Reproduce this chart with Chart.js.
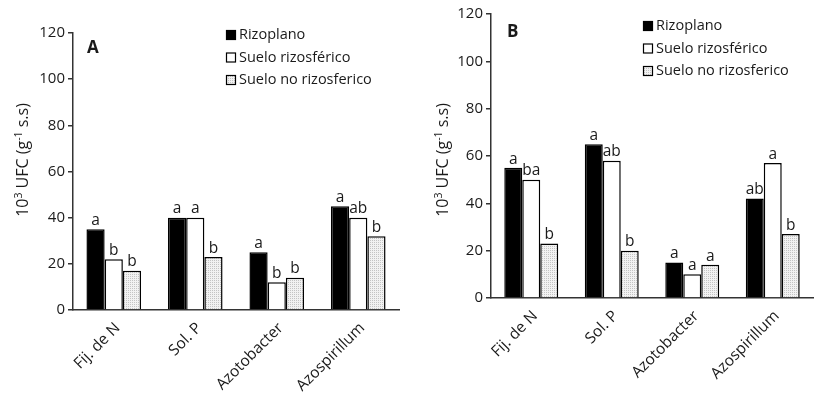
<!DOCTYPE html>
<html>
<head>
<meta charset="utf-8">
<script src="https://cdn.jsdelivr.net/npm/chart.js@4.4.1/dist/chart.umd.min.js"></script>
<style>
    body { margin: 0; background: #fff; }
    #wrap { position: relative; width: 825px; height: 395px; }
    canvas { position: absolute; top: 0; }
    #chart-a { left: 0; }
    #chart-b { left: 410px; }
</style>
</head>
<body>
<div id="wrap">
    <canvas id="chart-a" width="410" height="395"></canvas>
    <canvas id="chart-b" width="415" height="395"></canvas>
</div>
<script>
var categories = ['Fij. de N', 'Sol. P', 'Azotobacter', 'Azospirillum'];
var seriesNames = ['Rizoplano', 'Suelo rizosférico', 'Suelo no rizosferico'];
var yTicks = [0, 20, 40, 60, 80, 100, 120];
// y title pieces: [text, superscript?]
var yTitleParts = [['10', false], ['3', true], [' UFC (g', false], ['-1', true], [' s.s)', false]];

// Panel A
var rizoplanoA = [35, 40, 25, 45];
var rizosfericoA = [22, 40, 12, 40];
var noRizosfericoA = [17, 23, 14, 32];
var lettersA = [['a', 'a', 'a', 'a'], ['b', 'a', 'b', 'ab'], ['b', 'b', 'b', 'b']];

// Panel B
var rizoplanoB = [55, 65, 15, 42];
var rizosfericoB = [50, 58, 10, 57];
var noRizosfericoB = [23, 20, 14, 27];
var lettersB = [['a', 'a', 'a', 'ab'], ['ba', 'ab', 'a', 'a'], ['b', 'b', 'a', 'b']];

var FONT = '"Open Sans", "Liberation Sans", sans-serif';
var TEXT = '#1a1a1a';
var AXIS = '#333';

function dotPattern() {
    var c = document.createElement('canvas');
    c.width = 2;
    c.height = 2;
    var g = c.getContext('2d');
    g.fillStyle = '#f2f2f2';
    g.fillRect(0, 0, 2, 2);
    g.fillStyle = '#c4c4c4';
    g.fillRect(0, 0, 1, 1);
    return g.createPattern(c, 'repeat');
}

var fills = ['#000', '#fff', dotPattern()];

function drawTitle(ctx, cx, cy) {
    var main = '16px ' + FONT, sup = '10.5px ' + FONT;
    var total = 0;
    yTitleParts.forEach(function (p) {
        ctx.font = p[1] ? sup : main;
        total += ctx.measureText(p[0]).width;
    });
    ctx.save();
    ctx.translate(cx, cy);
    ctx.rotate(-Math.PI / 2);
    ctx.textAlign = 'left';
    ctx.textBaseline = 'alphabetic';
    var x = -total / 2;
    yTitleParts.forEach(function (p) {
        ctx.font = p[1] ? sup : main;
        ctx.fillText(p[0], x, p[1] ? -6 : 0);
        x += ctx.measureText(p[0]).width;
    });
    ctx.restore();
}

// letters over bars, panel tag, legend and y title
var annotations = {
    id: 'annotations',
    afterDatasetsDraw: function (chart, args, opts) {
        var ctx = chart.ctx;
        ctx.save();
        ctx.fillStyle = TEXT;
        ctx.font = '15.5px ' + FONT;
        ctx.textAlign = 'center';
        ctx.textBaseline = 'bottom';
        chart.data.datasets.forEach(function (ds, i) {
            chart.getDatasetMeta(i).data.forEach(function (bar, j) {
                ctx.fillText(opts.letters[i][j], bar.x, bar.y - 1);
            });
        });

        ctx.font = 'bold 17px ' + FONT;
        ctx.textAlign = 'left';
        ctx.textBaseline = 'alphabetic';
        ctx.fillText(opts.panel, opts.panelX, opts.panelY);

        // legend
        ctx.font = '14.5px ' + FONT;
        ctx.textBaseline = 'middle';
        seriesNames.forEach(function (name, i) {
            var y = opts.legendY + i * 22.5;
            ctx.fillStyle = fills[i];
            ctx.fillRect(opts.legendX, y - 5, 10, 10);
            ctx.strokeStyle = '#000';
            ctx.lineWidth = 1.2;
            ctx.strokeRect(opts.legendX + 0.5, y - 4.5, 9, 9);
            ctx.fillStyle = TEXT;
            ctx.fillText(name, opts.legendX + 13, y);
        });

        ctx.fillStyle = TEXT;
        drawTitle(ctx, opts.titleX, opts.titleY);
        ctx.restore();
    }
};

function makeChart(id, series, opts, box) {
    var datasets = series.map(function (values, i) {
        return {
            label: seriesNames[i],
            data: values,
            backgroundColor: fills[i],
            borderColor: '#000',
            borderWidth: 1.5,
            borderSkipped: 'bottom'
        };
    });

    return new Chart(document.getElementById(id), {
        type: 'bar',
        data: { labels: categories, datasets: datasets },
        options: {
            responsive: false,
            animation: false,
            categoryPercentage: 0.67,
            barPercentage: 1.0,
            layout: { padding: { left: 0, right: box.right, top: box.top, bottom: 0 } },
            plugins: {
                legend: { display: false },
                tooltip: { enabled: false },
                annotations: opts
            },
            scales: {
                x: {
                    grid: { drawOnChartArea: false, drawTicks: false },
                    border: { display: true, color: AXIS, width: 1.5 },
                    ticks: {
                        color: TEXT,
                        font: { family: FONT, size: 15.5 },
                        maxRotation: 45,
                        minRotation: 45,
                        autoSkip: false,
                        padding: 9,
                        labelOffset: 4
                    },
                    afterFit: function (scale) { scale.height = box.xHeight; }
                },
                y: {
                    min: 0,
                    max: 120,
                    afterBuildTicks: function (scale) {
                        scale.ticks = yTicks.map(function (v) { return { value: v }; });
                    },
                    grid: { drawOnChartArea: false, drawTicks: true, tickLength: 5, color: AXIS, lineWidth: 1.5 },
                    border: { display: true, color: AXIS, width: 1.5 },
                    ticks: {
                        color: TEXT,
                        font: { family: FONT, size: 15 },
                        padding: 3
                    },
                    afterFit: function (scale) { scale.width = box.yWidth; }
                }
            }
        },
        plugins: [annotations]
    });
}

makeChart('chart-a', [rizoplanoA, rizosfericoA, noRizosfericoA], {
    letters: lettersA,
    panel: 'A',
    panelX: 87,
    panelY: 53,
    legendX: 226,
    legendY: 35,
    titleX: 28,
    titleY: 160
}, { right: 11, top: 33, xHeight: 85, yWidth: 73 });

makeChart('chart-b', [rizoplanoB, rizosfericoB, noRizosfericoB], {
    letters: lettersB,
    panel: 'B',
    panelX: 97,
    panelY: 37,
    legendX: 233,
    legendY: 26,
    titleX: 38,
    titleY: 160
}, { right: 12, top: 14, xHeight: 97, yWidth: 81 });
</script>
</body>
</html>
